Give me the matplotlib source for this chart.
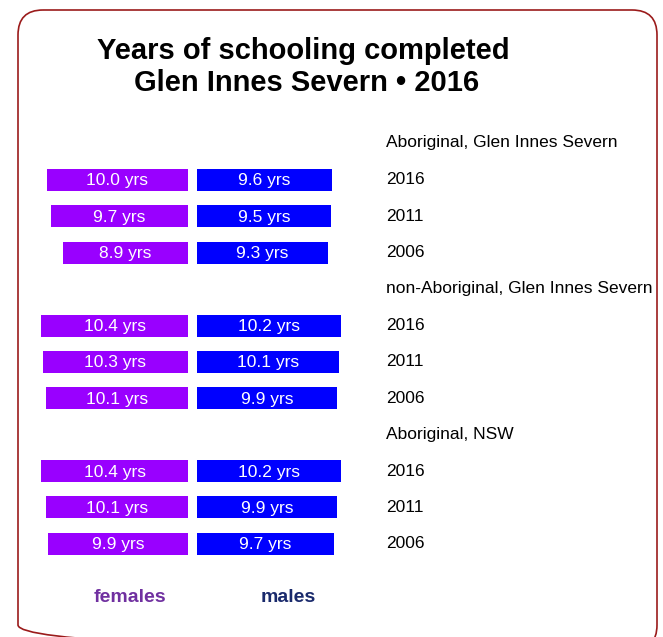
import matplotlib.pyplot as plt
from matplotlib.patches import FancyBboxPatch

# data
groups = ["Aboriginal, Glen Innes Severn", "non-Aboriginal, Glen Innes Severn", "Aboriginal, NSW"]
years = ["2016", "2011", "2006"]
females = [[10.0, 9.7, 8.9], [10.4, 10.3, 10.1], [10.4, 10.1, 9.9]]
males = [[9.6, 9.5, 9.3], [10.2, 10.1, 9.9], [10.2, 9.9, 9.7]]

fam = ['Liberation Sans', 'DejaVu Sans']
FEM = '#9900ff'
MAL = '#0000ff'
scale = 14.1        # px per year
fem_right = 188
mal_left = 197

fig = plt.figure(figsize=(6.63, 6.37), dpi=100)
ax = fig.add_axes([0, 0, 1, 1])
ax.set_xlim(0, 663)
ax.set_ylim(637, 0)
ax.axis('off')

# rounded border
ax.add_patch(FancyBboxPatch((18, 10), 639, 640, boxstyle="round,pad=0,rounding_size=25",
                            fill=False, edgecolor='#9b1b1b', linewidth=1.2))

ax.text(303, 51, "Years of schooling completed", ha='center', va='center',
        fontsize=21, fontweight='bold', family=fam)
ax.text(307, 83, "Glen Innes Severn \u2022 2016", ha='center', va='center',
        fontsize=21, fontweight='bold', family=fam)

for g, name in enumerate(groups):
    top = 143 + g * 145.5
    ax.text(386, top, name, ha='left', va='center', fontsize=12.5, family=fam)
    ys = [top + 37 + i * 36.3 for i in range(3)]
    fw = [v * scale for v in females[g]]
    mw = [v * scale for v in males[g]]
    ax.barh(ys, [-w for w in fw], left=fem_right, height=22, color=FEM)
    ax.barh(ys, mw, left=mal_left, height=22, color=MAL)
    for i, y in enumerate(ys):
        ax.text(fem_right - fw[i] / 2, y + 1, f"{females[g][i]:.1f} yrs", ha='center', va='center',
                color='white', fontsize=12.5, family=fam)
        ax.text(mal_left + mw[i] / 2, y + 1, f"{males[g][i]:.1f} yrs", ha='center', va='center',
                color='white', fontsize=12.5, family=fam)
        ax.text(386, y, years[i], ha='left', va='center', fontsize=12.5, family=fam)

ax.text(130, 597, "females", ha='center', va='center', fontsize=14, fontweight='bold',
        color='#7030a0', family=fam)
ax.text(288, 597, "males", ha='center', va='center', fontsize=14, fontweight='bold',
        color='#1a2a6c', family=fam)

fig.savefig("out.png", dpi=100)
